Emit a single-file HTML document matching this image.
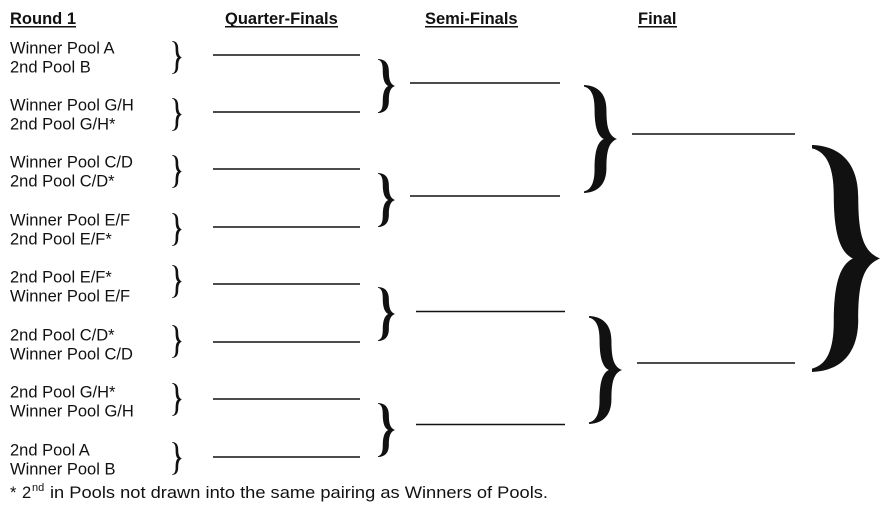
<!DOCTYPE html>
<html>
<head>
<meta charset="utf-8">
<style>
  html,body{margin:0;padding:0;background:#fff;}
  svg{display:block;}
  text{font-family:"Liberation Sans", Arial, sans-serif; fill:#111;}
  .b{font-weight:bold;}
</style>
</head>
<body>
<svg width="884" height="513" viewBox="0 0 884 513" xmlns="http://www.w3.org/2000/svg">
  <defs>
    <path id="brS" d="M0,0 C0.45,0.005 0.62,0.09 0.62,0.23 C0.62,0.4 0.75,0.47 1,0.5 C0.75,0.53 0.62,0.6 0.62,0.77 C0.62,0.91 0.45,0.995 0,1 L0,0.985 C0.25,0.97 0.36,0.9 0.36,0.78 C0.36,0.62 0.42,0.53 0.6,0.5 C0.42,0.47 0.36,0.38 0.36,0.22 C0.36,0.1 0.25,0.03 0,0.015 Z"/>
    <path id="brM" d="M0,0 C0.45,0.005 0.64,0.09 0.64,0.23 C0.64,0.4 0.75,0.47 1,0.5 C0.75,0.53 0.64,0.6 0.64,0.77 C0.64,0.91 0.45,0.995 0,1 L0,0.985 C0.22,0.97 0.28,0.9 0.28,0.78 C0.28,0.62 0.4,0.53 0.6,0.5 C0.4,0.47 0.28,0.38 0.28,0.22 C0.28,0.1 0.22,0.03 0,0.015 Z"/>
    <path id="brL" d="M0,0 C0.45,0.005 0.68,0.09 0.68,0.23 C0.68,0.4 0.76,0.47 1,0.5 C0.76,0.53 0.68,0.6 0.68,0.77 C0.68,0.91 0.45,0.995 0,1 L0,0.985 C0.22,0.97 0.32,0.9 0.32,0.78 C0.32,0.62 0.4,0.53 0.6,0.5 C0.4,0.47 0.32,0.38 0.32,0.22 C0.32,0.1 0.22,0.03 0,0.015 Z"/>
  </defs>

  <!-- Headers -->
  <text class="b" x="10" y="24" font-size="16.5">Round 1</text>
  <line x1="10" y1="26.8" x2="76" y2="26.8" stroke="#111" stroke-width="1.5"/>
  <text class="b" x="225" y="24" font-size="16.5">Quarter-Finals</text>
  <line x1="225" y1="26.8" x2="338" y2="26.8" stroke="#111" stroke-width="1.5"/>
  <text class="b" x="425" y="24" font-size="16.5">Semi-Finals</text>
  <line x1="425" y1="26.8" x2="518" y2="26.8" stroke="#111" stroke-width="1.5"/>
  <text class="b" x="638" y="24" font-size="16.5">Final</text>
  <line x1="638" y1="26.8" x2="677" y2="26.8" stroke="#111" stroke-width="1.5"/>

  <!-- Round 1 labels -->
  <g font-size="16.5">
    <text x="10" y="53.5">Winner Pool A</text>
    <text x="10" y="72.5">2nd Pool B</text>
    <text x="10" y="110.5">Winner Pool G/H</text>
    <text x="10" y="129.5">2nd Pool G/H*</text>
    <text x="10" y="167.5">Winner Pool C/D</text>
    <text x="10" y="186.5">2nd Pool C/D*</text>
    <text x="10" y="225.5">Winner Pool E/F</text>
    <text x="10" y="244.5">2nd Pool E/F*</text>
    <text x="10" y="282.5">2nd Pool E/F*</text>
    <text x="10" y="301.5">Winner Pool E/F</text>
    <text x="10" y="340.5">2nd Pool C/D*</text>
    <text x="10" y="359.5">Winner Pool C/D</text>
    <text x="10" y="397.5">2nd Pool G/H*</text>
    <text x="10" y="416.5">Winner Pool G/H</text>
    <text x="10" y="455.5">2nd Pool A</text>
    <text x="10" y="474.5">Winner Pool B</text>
  </g>

  <!-- small braces -->
  <g fill="#111">
    <use href="#brS" transform="translate(172,41) scale(10,33)"/>
    <use href="#brS" transform="translate(172,98) scale(10,33)"/>
    <use href="#brS" transform="translate(172,155) scale(10,33)"/>
    <use href="#brS" transform="translate(172,213) scale(10,33)"/>
    <use href="#brS" transform="translate(172,265) scale(10,33)"/>
    <use href="#brS" transform="translate(172,325) scale(10,33)"/>
    <use href="#brS" transform="translate(172,383) scale(10,33)"/>
    <use href="#brS" transform="translate(172,442) scale(10,33)"/>
  </g>

  <!-- QF lines -->
  <g stroke="#111" stroke-width="1.6">
    <line x1="213" y1="55" x2="360" y2="55"/>
    <line x1="213" y1="112" x2="360" y2="112"/>
    <line x1="213" y1="169" x2="360" y2="169"/>
    <line x1="213" y1="227" x2="360" y2="227"/>
    <line x1="213" y1="284" x2="360" y2="284"/>
    <line x1="213" y1="342" x2="360" y2="342"/>
    <line x1="213" y1="399" x2="360" y2="399"/>
    <line x1="213" y1="457" x2="360" y2="457"/>
  </g>

  <!-- SF braces -->
  <g fill="#111">
    <use href="#brM" transform="translate(378,59) scale(17,54)"/>
    <use href="#brM" transform="translate(378,173) scale(17,54)"/>
    <use href="#brM" transform="translate(378,287) scale(17,54)"/>
    <use href="#brM" transform="translate(378,403) scale(17,54)"/>
  </g>

  <!-- SF lines -->
  <g stroke="#111" stroke-width="1.6">
    <line x1="410" y1="83" x2="560" y2="83"/>
    <line x1="410" y1="196" x2="560" y2="196"/>
    <line x1="416" y1="311.5" x2="565" y2="311.5"/>
    <line x1="416" y1="424.5" x2="565" y2="424.5"/>
  </g>

  <!-- Final braces -->
  <g fill="#111">
    <use href="#brL" transform="translate(584,85) scale(33,108)"/>
    <use href="#brL" transform="translate(589,316) scale(33,108)"/>
  </g>

  <!-- Final lines -->
  <g stroke="#111" stroke-width="1.6">
    <line x1="632" y1="134" x2="795" y2="134"/>
    <line x1="637" y1="363" x2="795" y2="363"/>
  </g>

  <!-- Big brace -->
  <use href="#brL" fill="#111" transform="translate(812,145) scale(68,227)"/>

  <!-- Footnote -->
  <text x="10" y="498" font-size="16.5">*</text>
  <text x="22" y="498" font-size="16.5">2</text>
  <text x="32" y="491" font-size="11">nd</text>
  <text x="50" y="498" font-size="16.5" textLength="498" lengthAdjust="spacingAndGlyphs">in Pools not drawn into the same pairing as Winners of Pools.</text>
</svg>
</body>
</html>
